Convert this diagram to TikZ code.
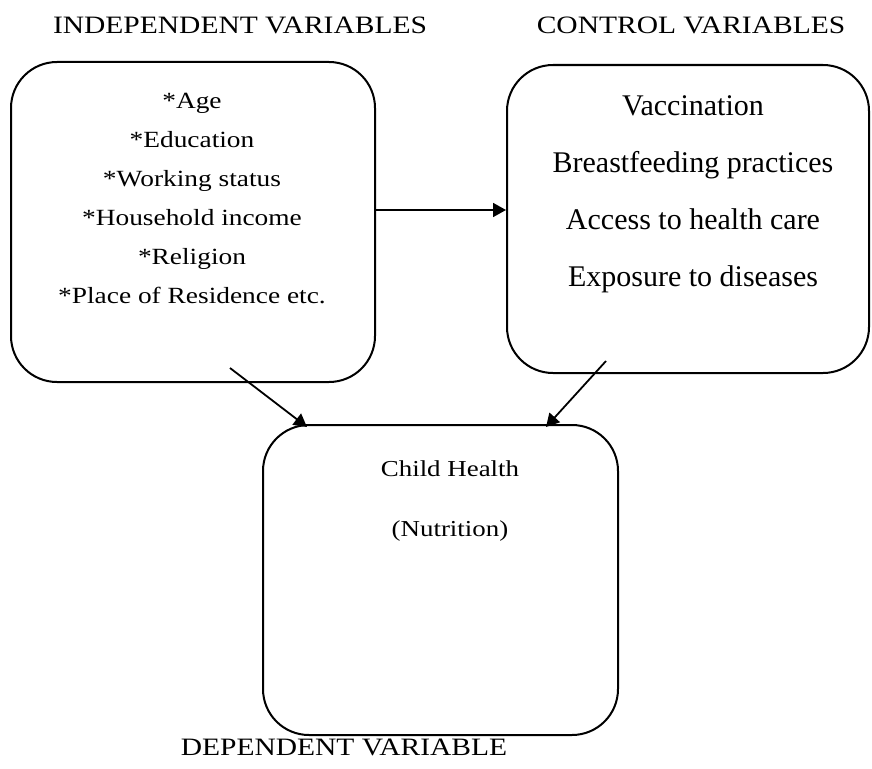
\documentclass[tikz,border=0pt]{standalone}
\usepackage{fontspec}
\setmainfont{Liberation Serif}[FakeStretch=1.18]
\newfontfamily\plainserif{Liberation Serif}
\usetikzlibrary{calc,arrows.meta}
\begin{document}
\begin{tikzpicture}[x=1pt,y=-1pt,
  varbox/.style={draw=black, line width=2pt, rounded corners=46pt, inner sep=0pt},
  heading/.style={font=\fontsize{25}{30}\selectfont, inner sep=0pt},
  itemtext/.style={align=center, inner sep=0pt},
  link/.style={line width=1.8pt, -{Triangle[length=13pt,width=14pt]}}]
  \useasboundingbox (0,0) rectangle (872,768);

  % headings
  \node[heading] (hind) at (240,25) {INDEPENDENT VARIABLES};
  \node[heading] (hctl) at (691,25) {CONTROL VARIABLES};
  \node[heading] (hdep) at (344,747) {DEPENDENT VARIABLE};

  % the three boxes
  \node[varbox, minimum width=364pt, minimum height=320pt] (indep) at (193,222) {};
  \node[varbox, minimum width=362pt, minimum height=308pt] (ctrl) at (688,219) {};
  \node[varbox, minimum width=355pt, minimum height=310pt] (dep) at (440.5,580) {};

  % box contents
  \node[itemtext, font=\fontsize{23.2}{39}\selectfont] (indeptext) at (192,199)
    {*Age\\*Education\\*Working status\\*Household income\\*Religion\\*Place of Residence etc.};
  \node[itemtext, font=\plainserif\fontsize{30}{57}\selectfont] (ctrltext) at (693,194)
    {Vaccination\\Breastfeeding practices\\Access to health care\\Exposure to diseases};
  \node[itemtext, font=\fontsize{22.8}{60}\selectfont] (deptext) at (450,501)
    {Child Health\\(Nutrition)};

  % connectors
  \draw[link] ($(indep.east)+(0,-12)$) -- ($(ctrl.west)+(0,-9)$);
  \coordinate (s1) at ($(indep.south)+(37,-15)$);
  \coordinate (s2) at ($(ctrl.south)+(-82,-13)$);
  \draw[link] (s1) -- ($(dep.north west)+(45,3)$);
  \draw[link] (s2) -- ($(dep.north east)+(-73,3)$);
\end{tikzpicture}
\end{document}
